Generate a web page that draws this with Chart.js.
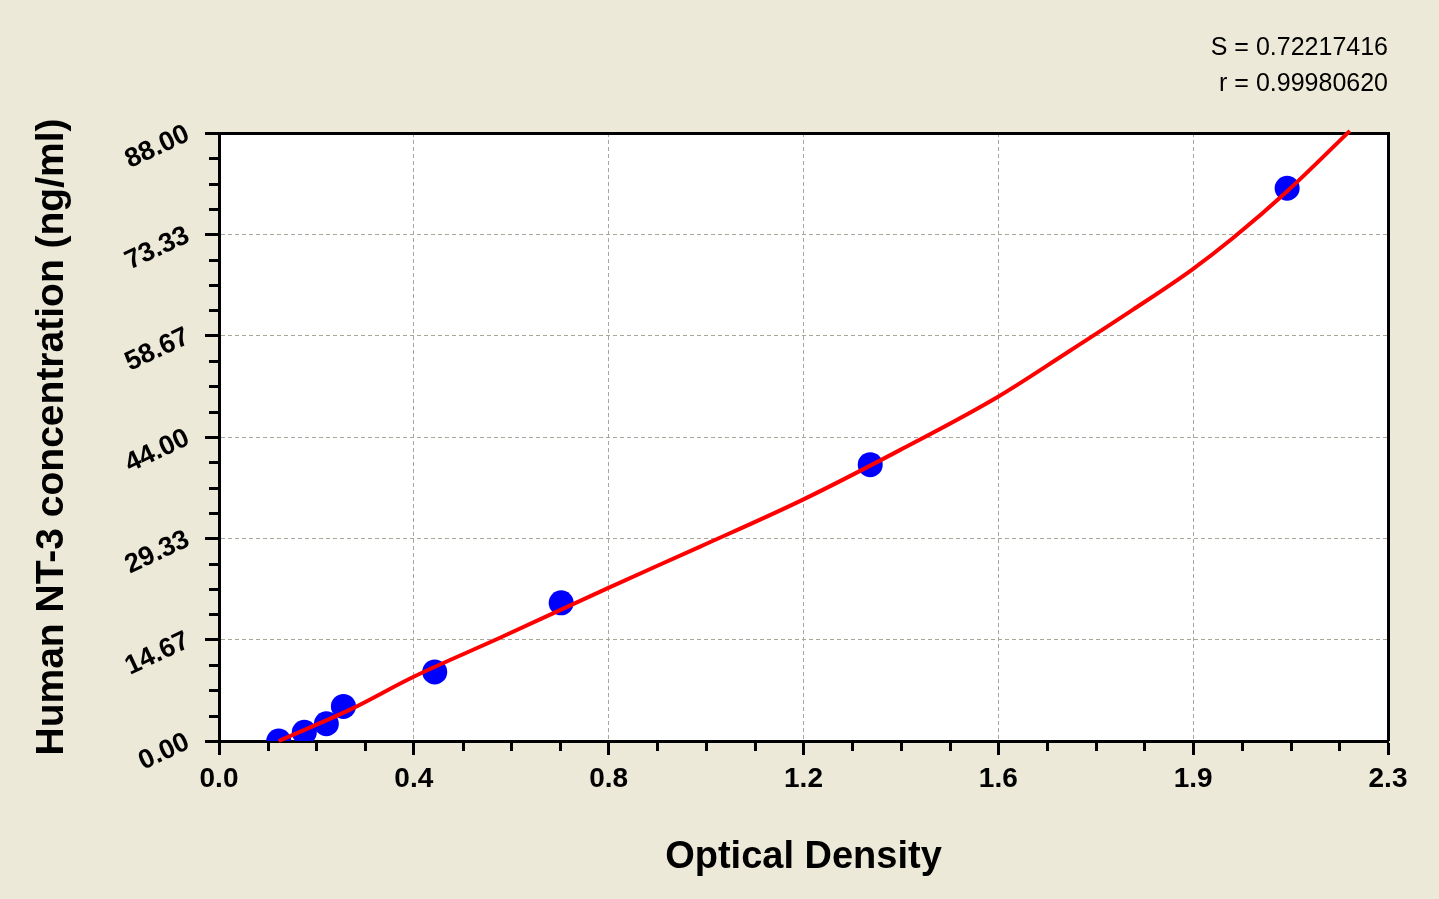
<!DOCTYPE html>
<html>
<head>
<meta charset="utf-8">
<script src="https://cdn.jsdelivr.net/npm/chart.js@4.4.1/dist/chart.umd.min.js"></script>
<style>
  html, body { margin: 0; padding: 0; background: #ECE9D8; }
  #wrap { width: 1439px; height: 899px; }
</style>
</head>
<body>
<div id="wrap"><canvas id="stdCurve"></canvas></div>
<script>
// standards: optical density vs concentration
const odValues   = [0.119, 0.170, 0.214, 0.248, 0.430, 0.682, 1.298, 2.129];
const concValues = [0, 1.25, 2.5, 5, 10, 20, 40, 80];

// fitted curve
const fitOD   = [0.119, 0.260, 0.388, 0.559, 0.774, 0.958, 1.163, 1.357, 1.552, 1.690, 1.821, 1.939, 2.021, 2.128, 2.254];
const fitConc = [0.0,   4.5,   9.3,   14.9,  22.1,  28.1,  34.9,  42.1,  49.8,  56.2,  62.4,  68.2,  72.8,  79.5,  88.3];

const xTickValues = [0, 0.38833, 0.77667, 1.165, 1.55333, 1.94167, 2.33];
const xTickLabels = ['0.0', '0.4', '0.8', '1.2', '1.6', '1.9', '2.3'];
const yTickValues = [0, 14.67, 29.33, 44, 58.67, 73.33, 88];
const yTickLabels = ['0.00', '14.67', '29.33', '44.00', '58.67', '73.33', '88.00'];
const statLines = ['S = 0.72217416', 'r = 0.99980620'];

const FONT = "'Liberation Sans', Arial, sans-serif";

const plotFrame = {
  id: 'plotFrame',
  beforeDraw(chart) {
    const {ctx, chartArea: a} = chart;
    ctx.save();
    ctx.fillStyle = '#ECE9D8';
    ctx.fillRect(0, 0, chart.width, chart.height);
    ctx.fillStyle = '#FFFFFF';
    ctx.fillRect(a.left, a.top, a.right - a.left, a.bottom - a.top);
    ctx.restore();
  },
  beforeDatasetsDraw(chart) {
    const {ctx, chartArea: a, scales: {x, y}} = chart;
    ctx.save();
    ctx.strokeStyle = '#000';
    ctx.lineWidth = 3;
    ctx.beginPath();
    // minor ticks, 3 between each pair of labelled ticks
    for (let i = 0; i < xTickValues.length - 1; i++) {
      const step = (xTickValues[i + 1] - xTickValues[i]) / 4;
      for (let k = 1; k < 4; k++) {
        const px = Math.round(x.getPixelForValue(xTickValues[i] + k * step)) + 0.5;
        ctx.moveTo(px, a.bottom);
        ctx.lineTo(px, a.bottom + 10);
      }
    }
    for (let i = 0; i < yTickValues.length - 1; i++) {
      const step = (yTickValues[i + 1] - yTickValues[i]) / 4;
      for (let k = 1; k < 4; k++) {
        const py = Math.round(y.getPixelForValue(yTickValues[i] + k * step)) + 0.5;
        ctx.moveTo(a.left, py);
        ctx.lineTo(a.left - 10, py);
      }
    }
    ctx.stroke();
    // top and right edge of the plot box
    ctx.beginPath();
    ctx.moveTo(a.left, a.top + 0.5);
    ctx.lineTo(a.right + 0.5, a.top + 0.5);
    ctx.lineTo(a.right + 0.5, a.bottom);
    ctx.stroke();
    ctx.restore();
  }
};

const ctx = document.getElementById('stdCurve').getContext('2d');

new Chart(ctx, {
  type: 'scatter',
  plugins: [plotFrame],
  data: {
    datasets: [
      {
        type: 'line',
        data: fitOD.map((v, i) => ({x: v, y: fitConc[i]})),
        borderColor: '#FF0000',
        borderWidth: 4,
        pointRadius: 0,
        cubicInterpolationMode: 'monotone',
        fill: false,
        clip: false,
        order: 0
      },
      {
        data: odValues.map((v, i) => ({x: v, y: concValues[i]})),
        backgroundColor: '#0000FF',
        borderWidth: 0,
        pointRadius: 12.5,
        order: 1
      }
    ]
  },
  options: {
    responsive: true,
    maintainAspectRatio: false,
    animation: false,
    layout: { padding: { left: 0, right: 51, top: 0, bottom: 0 } },
    plugins: {
      legend: { display: false },
      tooltip: { enabled: false },
      title: {
        display: true,
        text: statLines,
        align: 'end',
        color: '#000',
        font: { family: FONT, size: 25, weight: 'normal', lineHeight: 1.44 },
        padding: { top: 30, bottom: 31 }
      }
    },
    scales: {
      x: {
        type: 'linear',
        min: 0,
        max: 2.33,
        afterBuildTicks: scale => { scale.ticks = xTickValues.map(v => ({value: v})); },
        afterFit: scale => { scale.height = 158; },
        grid: {
          color: '#A9A799',
          lineWidth: 1,
          tickLength: 14,
          tickWidth: 3,
          tickColor: '#000'
        },
        border: { display: true, color: '#000', width: 3, dash: [4, 3] },
        ticks: {
          color: '#000',
          font: { family: FONT, size: 28, weight: 'bold' },
          padding: 7,
          maxRotation: 0,
          autoSkip: false,
          callback: (value, index) => xTickLabels[index]
        },
        title: {
          display: true,
          text: 'Optical Density',
          color: '#000',
          font: { family: FONT, size: 38, weight: 'bold' },
          padding: { top: 0, bottom: 19 }
        }
      },
      y: {
        type: 'linear',
        min: 0,
        max: 88,
        afterBuildTicks: scale => { scale.ticks = yTickValues.map(v => ({value: v})); },
        afterFit: scale => { scale.width = 219; },
        grid: {
          color: '#A9A799',
          lineWidth: 1,
          tickLength: 14,
          tickWidth: 3,
          tickColor: '#000'
        },
        border: { display: true, color: '#000', width: 3, dash: [4, 3] },
        ticks: {
          color: '#000',
          font: { family: FONT, size: 27, weight: 'bold' },
          padding: 17,
          minRotation: 25,
          maxRotation: 25,
          autoSkip: false,
          callback: (value, index) => yTickLabels[index]
        },
        title: {
          display: true,
          text: 'Human NT-3 concentration (ng/ml)',
          color: '#000',
          font: { family: FONT, size: 39, weight: 'bold' },
          padding: { top: 29, bottom: 0 }
        }
      }
    }
  }
});
</script>
</body>
</html>
